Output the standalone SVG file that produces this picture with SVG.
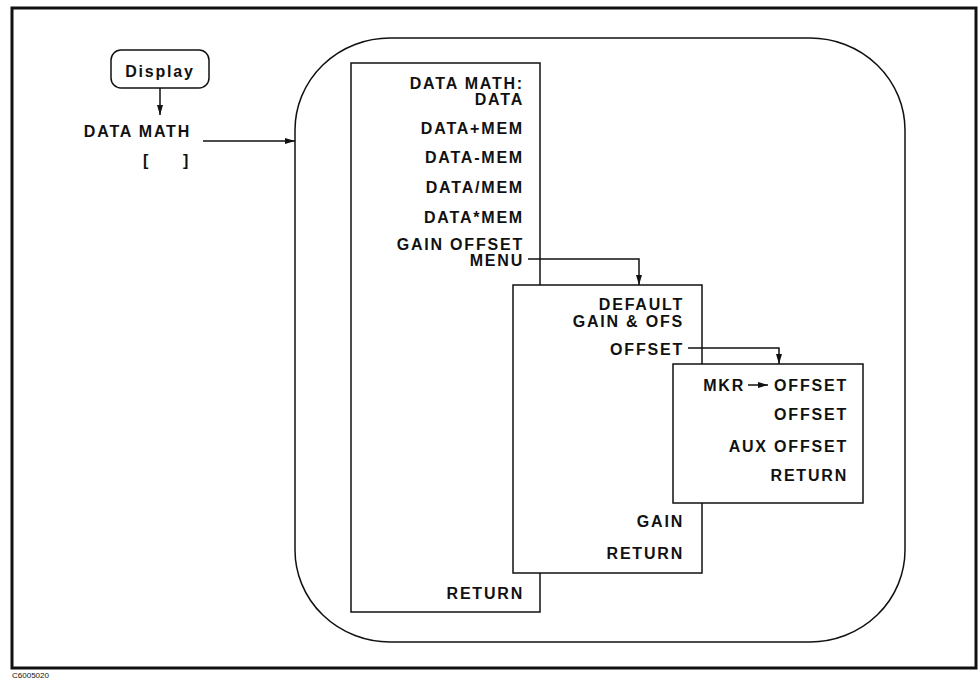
<svg xmlns="http://www.w3.org/2000/svg" width="978" height="681" viewBox="0 0 978 681">
<style>
.t{font-family:"Liberation Sans",Arial,sans-serif;font-weight:bold;font-size:16px;letter-spacing:1.8px;fill:#111}
.r{text-anchor:end}
.box{fill:#fff;stroke:#111;stroke-width:1.5}
.ln{fill:none;stroke:#111;stroke-width:1.5}
</style>
<defs>
<marker id="ah" viewBox="0 0 10 6" refX="10" refY="3" markerWidth="10" markerHeight="6" markerUnits="userSpaceOnUse" orient="auto">
<path d="M0,0 L10,3 L0,6 z" fill="#111"/>
</marker>
</defs>
<rect x="12" y="8" width="964" height="660" fill="none" stroke="#111" stroke-width="3"/>
<g id="outer"><rect x="295" y="38" width="610" height="604" rx="95" ry="92" class="ln"/></g>
<g id="display">
<rect x="111" y="50" width="98" height="38" rx="10" ry="10" class="box"/>
<text x="160" y="77" class="t" text-anchor="middle">Display</text>
</g>
<g id="datamath">
<text x="191" y="137" class="t r">DATA MATH</text>
<text x="143" y="166" class="t">[</text>
<text x="183" y="166" class="t">]</text>
</g>
<g id="menu1">
<rect x="351" y="63" width="189" height="549" class="box"/>
<text x="524" y="89" class="t r">DATA MATH:</text>
<text x="524" y="105" class="t r">DATA</text>
<text x="524" y="134" class="t r">DATA+MEM</text>
<text x="524" y="163" class="t r">DATA-MEM</text>
<text x="524" y="193" class="t r">DATA/MEM</text>
<text x="524" y="223" class="t r">DATA*MEM</text>
<text x="524" y="250" class="t r">GAIN OFFSET</text>
<text x="524" y="266" class="t r">MENU</text>
<text x="524" y="599" class="t r">RETURN</text>
</g>
<g id="menu2">
<rect x="513" y="285" width="189" height="288" class="box"/>
<text x="684" y="310" class="t r">DEFAULT</text>
<text x="684" y="327" class="t r">GAIN &amp; OFS</text>
<text x="684" y="355" class="t r">OFFSET</text>
<text x="684" y="527" class="t r">GAIN</text>
<text x="684" y="559" class="t r">RETURN</text>
</g>
<g id="menu3">
<rect x="673" y="364" width="190" height="139" class="box"/>
<text x="745" y="391" class="t r">MKR</text>
<text x="848" y="391" class="t r">OFFSET</text>
<text x="848" y="420" class="t r">OFFSET</text>
<text x="848" y="452" class="t r">AUX OFFSET</text>
<text x="848" y="481" class="t r">RETURN</text>
</g>
<g id="connectors">
<line x1="748" y1="385" x2="768" y2="385" class="ln" stroke-width="2.2" marker-end="url(#ah)"/>
<line x1="160" y1="88" x2="160" y2="115" class="ln" marker-end="url(#ah)"/>
<line x1="203" y1="141" x2="295" y2="141" class="ln" marker-end="url(#ah)"/>
<polyline points="528,259 639,259 639,285" class="ln" marker-end="url(#ah)"/>
<polyline points="688,348 779,348 779,364" class="ln" marker-end="url(#ah)"/>
</g>
<text x="12" y="678" font-family="Liberation Sans,Arial,sans-serif" font-size="8" fill="#111">C6005020</text>
</svg>
